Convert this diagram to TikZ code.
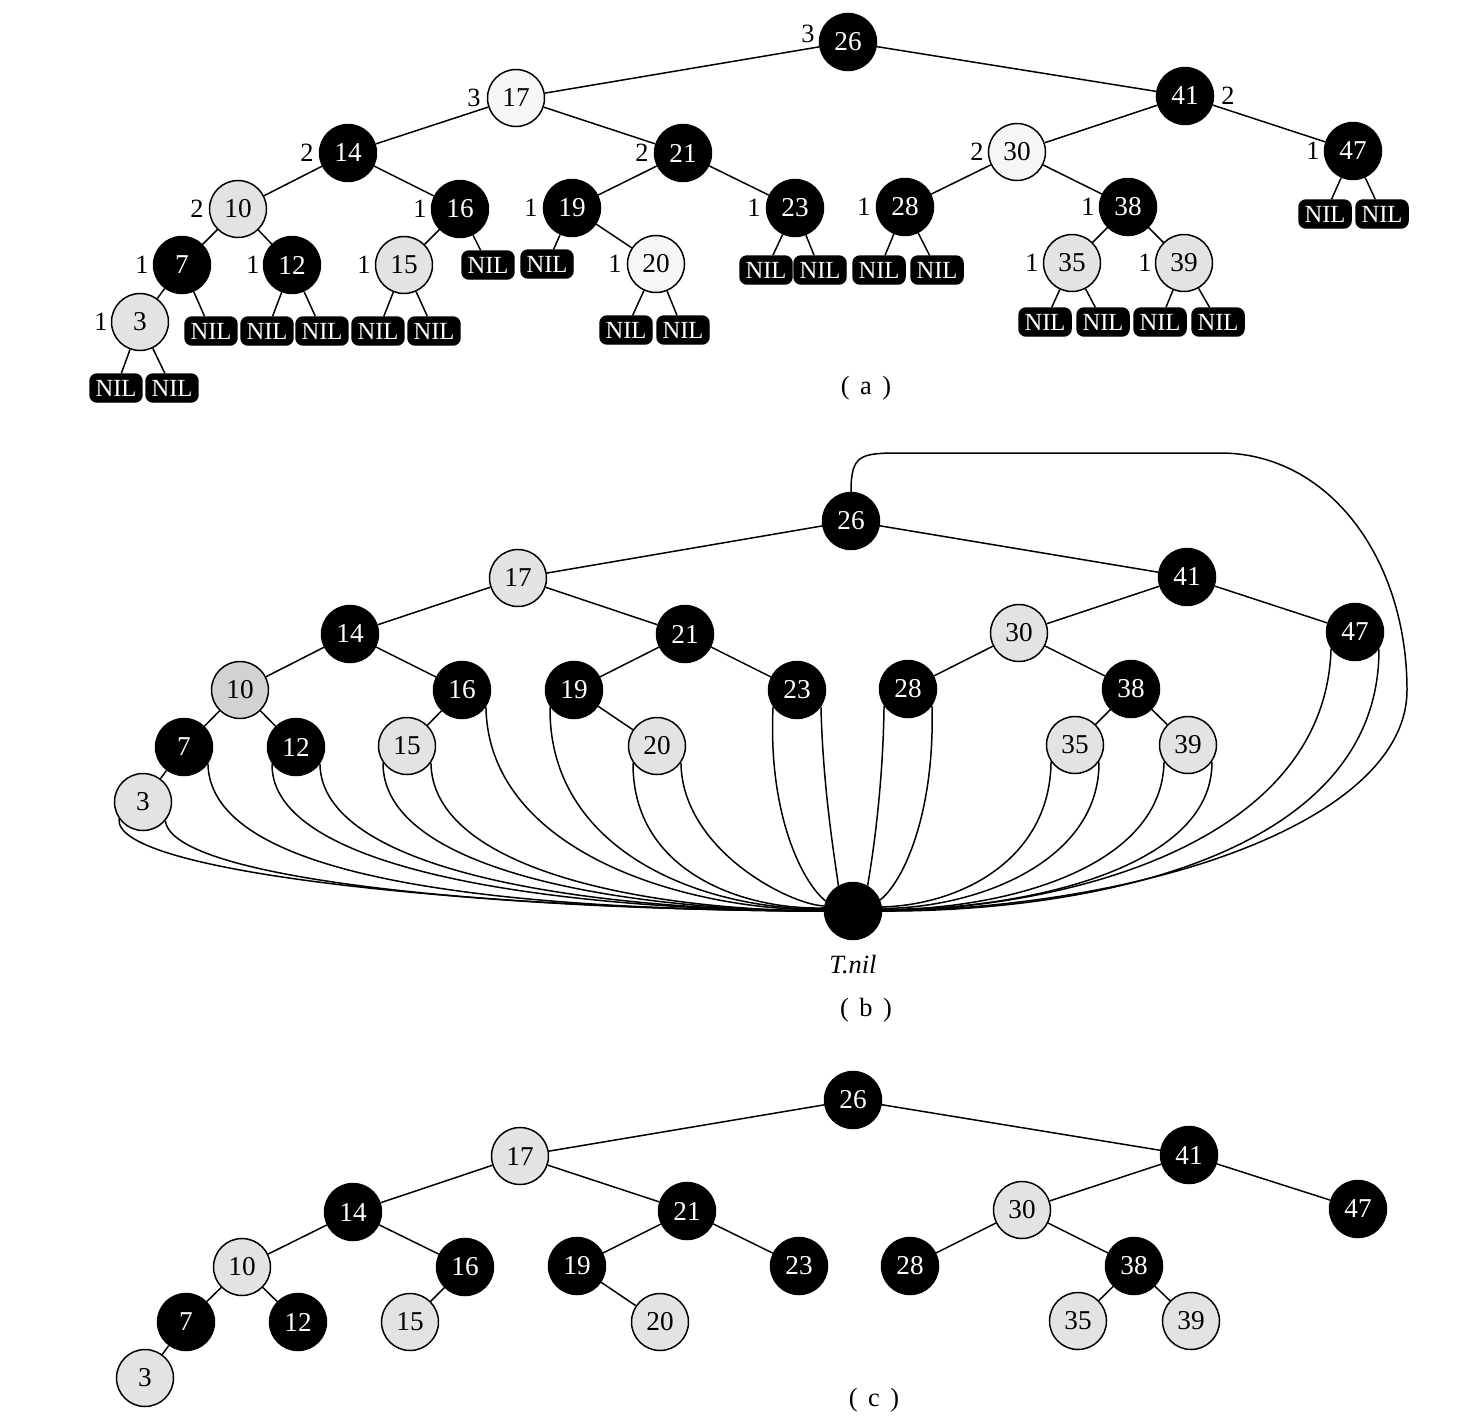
\documentclass[tikz,border=0pt]{standalone}
\usepackage{fontspec}
\setmainfont{Liberation Serif}
\begin{document}
\begin{tikzpicture}[x=0.02cm,y=0.02cm, line width=0.85pt,
  bn/.style={circle, fill=black, draw=black, minimum size=1.14cm, inner sep=0pt, text=white, font=\fontsize{15.5}{17}\selectfont},
  rn/.style={circle, fill=gray!22, draw=black, minimum size=1.14cm, inner sep=0pt, text=black, font=\fontsize{15.5}{17}\selectfont},
  wn/.style={rn, fill=gray!7},
  dn/.style={rn, fill=gray!35},
  nilbox/.style={rounded corners=4pt, fill=black, draw=black, minimum width=1.04cm, minimum height=0.56cm, inner sep=0pt, text=white, font=\fontsize{14}{16}\selectfont},
  bh/.style={inner sep=0pt, font=\fontsize{15}{17}\selectfont},
  captxt/.style={inner sep=0pt, font=\fontsize{15}{17}\selectfont}]
\useasboundingbox (0,0) rectangle (1478,-1420);

% ---------------- (a) ----------------
\foreach \n/\x/\y in {26/848/42, 41/1185/96, 14/348/153, 21/683/153, 47/1353/151, 16/460/209, 19/572/208, 23/795/208, 28/905/207, 38/1128/207, 7/182/265, 12/292/265}
  \node[bn] (a\n) at (\x,-\y) {\n};
\foreach \n/\x/\y in {10/238/209, 15/404/265, 35/1072/263, 39/1184/263, 3/140/322}
  \node[rn] (a\n) at (\x,-\y) {\n};
\foreach \n/\x/\y in {17/516/98, 30/1017/152, 20/656/264}
  \node[wn] (a\n) at (\x,-\y) {\n};

\foreach \n/\x/\y in {3l/116/388, 3r/172/388, 7r/211/331, 12l/267/331, 12r/322/331, 15l/378/331, 15r/434/331, 16r/488/265, 19l/547/264, 20l/626/330, 20r/683/330, 23l/766/270, 23r/820/270, 28l/879/270, 28r/937/270, 35l/1045/322, 35r/1103/322, 39l/1160/322, 39r/1218/322, 47l/1325/214, 47r/1382/214}
  \node[nilbox] (nil\n) at (\x,-\y) {NIL};

\foreach \p/\c in {26/17, 26/41, 17/14, 17/21, 41/30, 41/47, 14/10, 14/16, 21/19, 21/23, 30/28, 30/38, 10/7, 10/12, 16/15, 19/20, 38/35, 38/39, 7/3}
  \draw (a\p) -- (a\c);
\foreach \p/\c in {3/3l, 3/3r, 7/7r, 12/12l, 12/12r, 15/15l, 15/15r, 16/16r, 19/19l, 20/20l, 20/20r, 23/23l, 23/23r, 28/28l, 28/28r, 35/35l, 35/35r, 39/39l, 39/39r, 47/47l, 47/47r}
  \draw (a\p) -- (nil\c);

\foreach \n/\t/\x/\y in {26/3/808/34, 17/3/474/98, 41/2/1228/96, 14/2/307/153, 21/2/642/153, 30/2/977/152, 47/1/1313/151, 10/2/197/209, 16/1/420/209, 19/1/531/208, 23/1/754/208, 28/1/864/207, 38/1/1088/207, 7/1/142/265, 12/1/253/265, 15/1/364/265, 20/1/615/264, 35/1/1032/263, 39/1/1145/263, 3/1/101/322}
  \node[bh] (h\n) at (\x,-\y) {\t};

\node[captxt] (capa) at (866,-388) {(\hspace{0.4em}a\hspace{0.4em})};

% ---------------- (b) ----------------
\foreach \n/\x/\y in {26/851/521, 41/1187/577, 14/350/634, 21/685/634, 47/1355/632, 16/462/690, 19/574/690, 23/797/690, 28/908/689, 38/1131/689, 7/184/747, 12/296/747}
  \node[bn] (b\n) at (\x,-\y) {\n};
\foreach \n/\x/\y in {17/518/578, 30/1019/633, 15/407/746, 20/657/746, 35/1075/745, 39/1188/745, 3/143/802}
  \node[rn] (b\n) at (\x,-\y) {\n};
\node[dn] (b10) at (240,-690) {10};
\node[bn] (tnil) at (853,-911) {};
\node[inner sep=0pt, font=\fontsize{15}{17}\selectfont\itshape] (tnillbl) at (853,-965) {T.nil};

\foreach \p/\c in {26/17, 26/41, 17/14, 17/21, 41/30, 41/47, 14/10, 14/16, 21/19, 21/23, 30/28, 30/38, 10/7, 10/12, 16/15, 19/20, 38/35, 38/39, 7/3}
  \draw (b\p) -- (b\c);

% sentinel links, left side
\draw (b3.-145) .. controls (112,-875) and (500,-910) .. (tnil.180);
\draw (b3.-40) .. controls (172,-880) and (500,-910) .. (tnil.180);
\draw (b7.-35) .. controls (210,-880) and (500,-910) .. (tnil.180);
\draw (b12.-145) .. controls (270,-872) and (560,-910) .. (tnil.180);
\draw (b12.-35) .. controls (321,-870) and (580,-910) .. (tnil.180);
\draw (b15.-145) .. controls (382,-870) and (620,-910) .. (tnil.180);
\draw (b15.-35) .. controls (432,-868) and (640,-910) .. (tnil.180);
\draw (b16.-35) .. controls (488,-850) and (680,-910) .. (tnil.178);
\draw (b19.-145) .. controls (548,-850) and (700,-910) .. (tnil.176);
\draw (b20.-145) .. controls (632,-870) and (740,-910) .. (tnil.174);
\draw (b20.-35) .. controls (682,-850) and (790,-905) .. (tnil.170);
\draw (b23.-145) .. controls (768,-810) and (800,-880) .. (tnil.160);
\draw (b23.-35) .. controls (823,-790) and (835,-860) .. (tnil.120);
% right side
\draw (b28.-145) .. controls (883,-790) and (872,-860) .. (tnil.60);
\draw (b28.-35) .. controls (935,-810) and (905,-880) .. (tnil.22);
\draw (b35.-145) .. controls (1050,-860) and (960,-905) .. (tnil.8);
\draw (b35.-35) .. controls (1100,-860) and (980,-908) .. (tnil.5);
\draw (b39.-145) .. controls (1162,-870) and (1000,-910) .. (tnil.3);
\draw (b39.-35) .. controls (1213,-870) and (1020,-910) .. (tnil.2);
\draw (b47.-145) .. controls (1325,-850) and (1050,-910) .. (tnil.1);
\draw (b47.-35) .. controls (1380,-860) and (1080,-912) .. (tnil.0);
\draw (b26.north) .. controls (851,-455) and (860,-453) .. (900,-453) -- (1220,-453)
      .. controls (1330,-453) and (1407,-560) .. (1407,-690)
      .. controls (1407,-820) and (1150,-908) .. (tnil.0);

\node[captxt] (capb) at (866,-1010) {(\hspace{0.4em}b\hspace{0.4em})};

% ---------------- (c) ----------------
\foreach \n/\x/\y in {26/853/1100, 41/1189/1155, 14/353/1212, 21/687/1211, 47/1358/1209, 16/465/1267, 19/577/1266, 23/799/1266, 28/910/1266, 38/1134/1266, 7/186/1322, 12/298/1322}
  \node[bn] (c\n) at (\x,-\y) {\n};
\foreach \n/\x/\y in {17/520/1156, 30/1022/1210, 10/242/1267, 15/410/1322, 20/660/1322, 35/1078/1321, 39/1191/1321, 3/145/1378}
  \node[rn] (c\n) at (\x,-\y) {\n};

\foreach \p/\c in {26/17, 26/41, 17/14, 17/21, 41/30, 41/47, 14/10, 14/16, 21/19, 21/23, 30/28, 30/38, 10/7, 10/12, 16/15, 19/20, 38/35, 38/39, 7/3}
  \draw (c\p) -- (c\c);

\node[captxt] (capc) at (874,-1400) {(\hspace{0.4em}c\hspace{0.4em})};
\end{tikzpicture}
\end{document}
